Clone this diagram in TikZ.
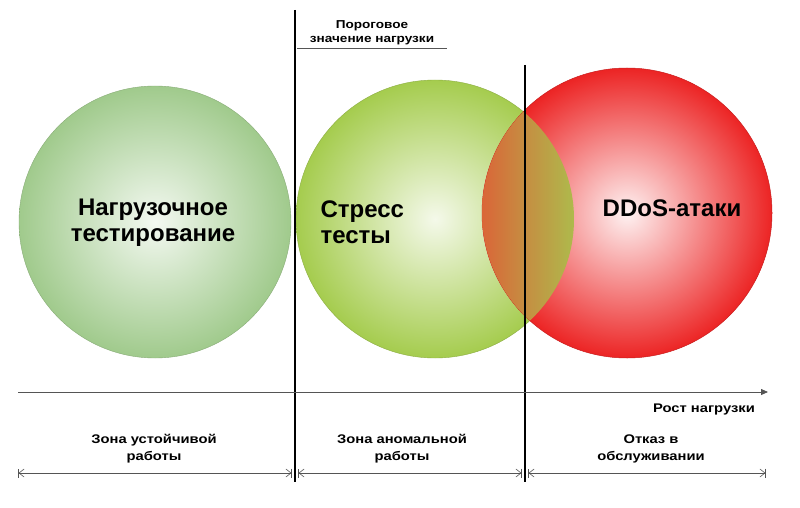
\documentclass[tikz,border=0pt]{standalone}
\usepackage{fontspec}
\setmainfont{Liberation Sans}
\newfontfamily\widefont{Liberation Sans}[FakeStretch=1.18]
\usetikzlibrary{arrows.meta}

\definecolor{loadgreen}{RGB}{160,202,140}
\definecolor{stressgreen}{RGB}{165,204,78}
\definecolor{ddosred}{RGB}{236,36,36}
\definecolor{mixred}{RGB}{218,102,56}
\definecolor{mixgreen}{RGB}{174,186,76}
\definecolor{axisgray}{RGB}{85,85,85}

\begin{document}
\begin{tikzpicture}[x=1pt,y=-1pt,
    bigtext/.style={font=\fontsize{24}{26}\selectfont\bfseries},
    zonetext/.style={font=\widefont\bfseries\fontsize{12.5}{17}\selectfont, align=center},
    zoneline/.style={draw=axisgray, line width=0.6pt,
        {Bar[width=9pt]Straight Barb[length=5pt,width=8pt]}-{Straight Barb[length=5pt,width=8pt]Bar[width=9pt]}},
    limit/.style={line width=1.3pt}]
    \useasboundingbox (0,0) rectangle (800,508);

    % circles
    \shadedraw[inner color=loadgreen!12, outer color=loadgreen, draw=loadgreen!85!black, line width=0.4pt] (155,222) circle (136pt);
    \shadedraw[inner color=stressgreen!12, outer color=stressgreen, draw=stressgreen!85!black, line width=0.4pt] (435,219) circle (139pt);
    \shadedraw[inner color=ddosred!6, outer color=ddosred, draw=ddosred!85!black, line width=0.5pt] (627,213) circle (145pt);
    \begin{scope}
        \clip (627,213) circle (145pt);
        \clip (435,219) circle (139pt);
        \shade[left color=mixred, right color=mixgreen] (482,60) rectangle (574,370);
    \end{scope}

    % limits and axis
    \coordinate (t1) at (295,10);
    \coordinate (b1) at (295,482);
    \coordinate (t2) at (525,65);
    \coordinate (b2) at (525,482);
    \draw[limit] (t1) -- (b1);
    \draw[limit] (t2) -- (b2);
    \draw[axisgray, line width=0.8pt, -{Triangle[length=7pt,width=6pt]}] (18,392) -- (768,392);
    \draw[axisgray, line width=0.8pt] (297,48) -- (447,48);

    % labels
    \node[bigtext, align=center] (load) at (153,223) {Нагрузочное\\тестирование};
    \node[bigtext, align=left, anchor=west] (stress) at (317,222) {Стресс\\тесты};
    \node[bigtext] (ddos) at (672,208) {DDoS-атаки};
    \node[zonetext, font=\widefont\bfseries\fontsize{11.5}{14}\selectfont] (threshold) at (372,33) {Пороговое\\значение нагрузки};
    \node[zonetext] (growth) at (704,409) {Рост нагрузки};

    % zones
    \node[zonetext] (stable) at (154,449) {Зона устойчивой\\работы};
    \node[zonetext] (anomal) at (402,449) {Зона аномальной\\работы};
    \node[zonetext] (denial) at (651,449) {Отказ в\\обслуживании};
    \draw[zoneline] (18,473) -- (292,473);
    \draw[zoneline] (298,473) -- (522,473);
    \draw[zoneline] (528,473) -- (766,473);
\end{tikzpicture}
\end{document}
